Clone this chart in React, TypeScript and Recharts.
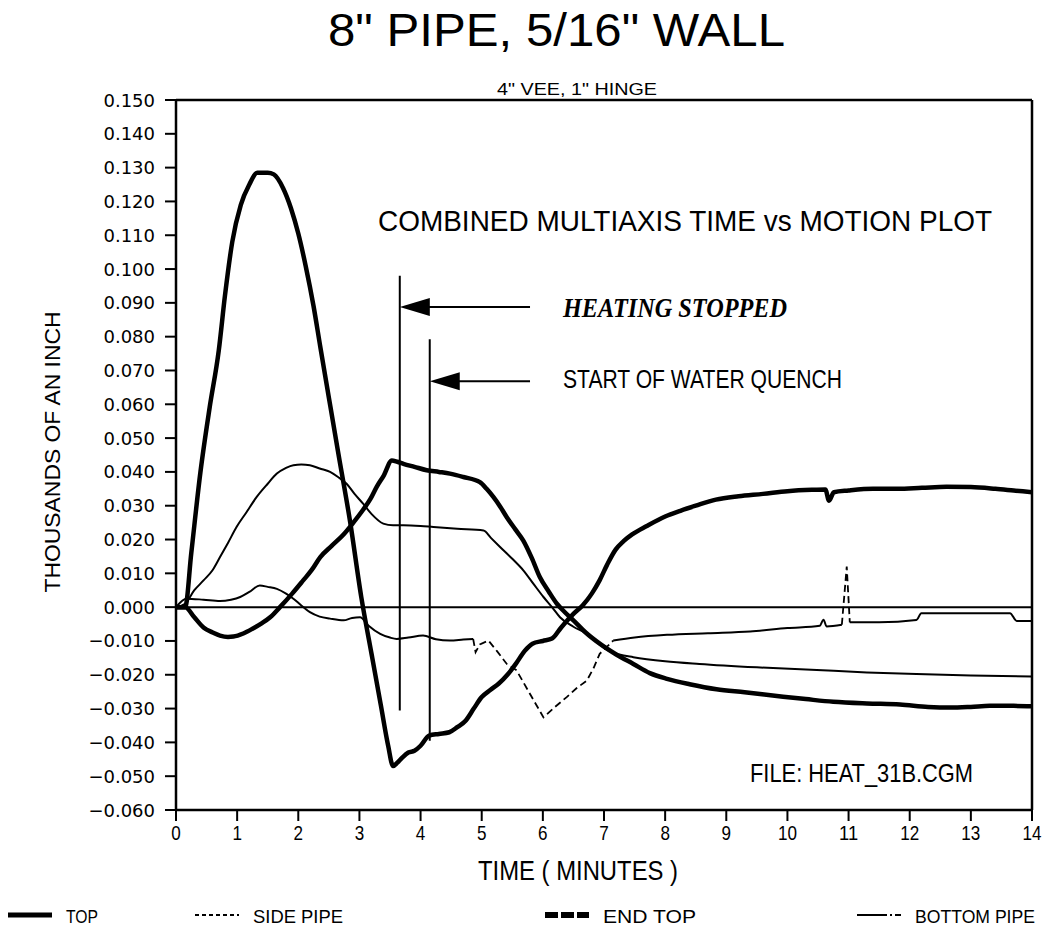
import {
  Line,
  LineChart,
  ReferenceDot,
  ReferenceLine,
  XAxis,
  YAxis,
} from "recharts";

// time (minutes) vs motion
const topPipe: [number, number][] = [
  [0, 0], [0.15, 0], [0.25, 0.016], [0.4, 0.04], [0.55, 0.059], [0.7, 0.076],
  [0.8, 0.092], [0.92, 0.108], [1.06, 0.119], [1.2, 0.125], [1.33, 0.1285],
  [1.5, 0.1285], [1.6, 0.128], [1.75, 0.124], [1.88, 0.118], [2.0, 0.1105],
  [2.12, 0.101], [2.25, 0.089], [2.36, 0.077], [2.5, 0.062], [2.65, 0.046],
  [2.85, 0.025], [3.03, 0.003], [3.2, -0.014], [3.35, -0.029], [3.47, -0.041],
  [3.55, -0.047], [3.62, -0.046], [3.7, -0.0445], [3.8, -0.043], [3.9, -0.0425],
  [4.0, -0.041], [4.14, -0.038], [4.3, -0.0375], [4.47, -0.037], [4.6, -0.0355],
  [4.74, -0.0335], [4.87, -0.03], [5.0, -0.0266], [5.14, -0.0245], [5.28, -0.0226],
  [5.42, -0.02], [5.56, -0.0167], [5.7, -0.013], [5.83, -0.0108], [6.0, -0.01],
  [6.15, -0.0093], [6.3, -0.006], [6.5, -0.002], [6.65, 0.0005], [6.8, 0.004],
  [6.93, 0.008], [7.05, 0.0125], [7.19, 0.017], [7.32, 0.0195], [7.46, 0.0215],
  [7.7, 0.024], [8.0, 0.0268], [8.25, 0.0285], [8.5, 0.03], [8.83, 0.0318],
  [9.2, 0.0328], [9.6, 0.0335], [10.0, 0.0343], [10.4, 0.0347], [10.62, 0.0348],
  [10.68, 0.0315], [10.76, 0.034], [11.0, 0.0345], [11.4, 0.035], [11.8, 0.035],
  [12.2, 0.0353], [12.6, 0.0356], [13.0, 0.0355], [13.4, 0.035], [13.7, 0.0345],
  [14, 0.034],
];

const sidePipe: [number, number][] = [
  [0, 0], [0.17, 0.0025], [0.45, 0.0022], [0.72, 0.0018], [0.9, 0.0022],
  [1.05, 0.003], [1.2, 0.0045], [1.37, 0.0064], [1.5, 0.006], [1.65, 0.0054],
  [1.8, 0.004], [1.92, 0.0025], [2.05, 0.0005], [2.19, -0.0015], [2.35, -0.0028],
  [2.52, -0.0034], [2.74, -0.0039], [2.88, -0.0032], [3.01, -0.003], [3.15, -0.0055],
  [3.34, -0.0079], [3.5, -0.009], [3.61, -0.0094], [3.8, -0.009], [4.04, -0.0084],
  [4.25, -0.0095], [4.48, -0.0099], [4.7, -0.0096], [4.86, -0.0094], [4.9, -0.0133],
  [4.97, -0.011], [5.11, -0.0099], [5.25, -0.013], [5.41, -0.0168], [5.57, -0.0187],
  [5.8, -0.026], [6.01, -0.0326], [6.2, -0.0295], [6.39, -0.0266], [6.55, -0.024],
  [6.72, -0.0217], [6.83, -0.018], [6.93, -0.0138], [7.15, -0.0099], [7.5, -0.009],
  [8.03, -0.0082], [8.7, -0.0077], [9.39, -0.0072], [10.0, -0.0062], [10.53, -0.0055],
  [10.59, -0.0037], [10.64, -0.0057], [10.89, -0.0052], [10.97, 0.012], [11.02, -0.0045],
  [11.5, -0.0045], [12.11, -0.0038], [12.19, -0.0018], [13.0, -0.0018], [13.64, -0.0018],
  [13.75, -0.0041], [14, -0.0041],
];

// stretches of the side pipe trace that the plotter drew dashed
const sideDashedSpans: [number, number][] = [[4.86, 7.15], [10.89, 11.02]];

const endTop: [number, number][] = [
  [0, 0], [0.15, 0], [0.3, -0.003], [0.45, -0.006], [0.6, -0.0075], [0.72, -0.0084],
  [0.85, -0.0088], [0.94, -0.0087], [1.1, -0.0078], [1.26, -0.0063], [1.4, -0.0048],
  [1.54, -0.003], [1.7, 0], [1.9, 0.004], [2.08, 0.0079], [2.22, 0.011], [2.36, 0.0148],
  [2.55, 0.0182], [2.74, 0.0215], [2.9, 0.025], [3.06, 0.0288], [3.18, 0.032],
  [3.28, 0.0355], [3.4, 0.039], [3.53, 0.0434], [3.62, 0.043], [3.72, 0.0424],
  [3.9, 0.0415], [4.1, 0.0405], [4.3, 0.04], [4.48, 0.0395], [4.7, 0.0385],
  [4.97, 0.037], [5.08, 0.035], [5.19, 0.0326], [5.3, 0.0298], [5.41, 0.0266],
  [5.55, 0.023], [5.68, 0.0197], [5.82, 0.0145], [5.95, 0.0089], [6.1, 0.0045],
  [6.23, 0.001], [6.36, -0.0015], [6.5, -0.0039], [6.7, -0.0075], [6.93, -0.0108],
  [7.2, -0.014], [7.48, -0.0168], [7.75, -0.0195], [8.03, -0.0212], [8.4, -0.0228],
  [8.84, -0.0243], [9.3, -0.0252], [9.93, -0.0265], [10.3, -0.0272], [10.75, -0.028],
  [11.3, -0.0285], [11.84, -0.0288], [12.3, -0.0295], [12.66, -0.0297], [13.0, -0.0295],
  [13.31, -0.0292], [13.7, -0.0292], [14, -0.0293],
];

const bottomPipe: [number, number][] = [
  [0, 0], [0.15, 0.001], [0.3, 0.005], [0.45, 0.0079], [0.6, 0.011], [0.72, 0.0148],
  [0.85, 0.019], [0.99, 0.0237], [1.15, 0.028], [1.32, 0.0326], [1.5, 0.0365],
  [1.65, 0.0395], [1.8, 0.0412], [1.92, 0.042], [2.05, 0.0422], [2.19, 0.042],
  [2.35, 0.041], [2.52, 0.04], [2.65, 0.0385], [2.79, 0.0365], [2.92, 0.0335],
  [3.06, 0.0306], [3.2, 0.0275], [3.39, 0.0247], [3.55, 0.0242], [3.72, 0.0242],
  [4.0, 0.024], [4.21, 0.0237], [4.6, 0.0232], [5.03, 0.0227], [5.15, 0.0205],
  [5.3, 0.0178], [5.5, 0.0143], [5.68, 0.0109], [5.85, 0.0068], [6.01, 0.003],
  [6.15, 0.0], [6.28, -0.003], [6.5, -0.0058], [6.72, -0.0079], [6.9, -0.0105],
  [7.04, -0.0125], [7.25, -0.014], [7.48, -0.0148], [8.0, -0.016], [8.56, -0.0168],
  [9.5, -0.0178], [10.48, -0.0186], [11.3, -0.0193], [12.11, -0.0198], [13.0, -0.0202],
  [14, -0.0205],
];

const xTicks = [0, 1, 2, 3, 4, 5, 6, 7, 8, 9, 10, 11, 12, 13, 14];
const yTicks = [
  -0.06, -0.05, -0.04, -0.03, -0.02, -0.01, 0, 0.01, 0.02, 0.03, 0.04, 0.05, 0.06,
  0.07, 0.08, 0.09, 0.1, 0.11, 0.12, 0.13, 0.14, 0.15,
];

// event markers: [time, top of line, bottom of line, arrow level]
const heatingStopped = [3.66, 0.098, -0.0306, 0.0888];
const waterQuench = [4.15, 0.0792, -0.0395, 0.0668];
const arrowTailT = 5.79;

const series = [
  { name: "TOP", data: topPipe, width: 4.5, legendDash: undefined, legendWidth: 5 },
  { name: "SIDE PIPE", data: sidePipe, width: 2, legendDash: "4 3", legendWidth: 2 },
  { name: "END TOP", data: endTop, width: 4.5, legendDash: "13 3", legendWidth: 6 },
  { name: "BOTTOM PIPE", data: bottomPipe, width: 2, legendDash: "30 3 2 3", legendWidth: 2 },
];

const W = 1053;
const H = 935;
const SANS = '"Liberation Sans", Arial, sans-serif';
const INK = "#000";

const fmtY = (v: number) => (v < 0 ? "\u2212" : "") + Math.abs(v).toFixed(3);

const inSpan = (t: number, strict: boolean) =>
  sideDashedSpans.some(([a, b]) => (strict ? t > a && t < b : t >= a && t <= b));

// solid part of a trace: gaps where the dashed stretches are
const solidRows = (pts: [number, number][], dashed: boolean) =>
  pts.map(([t, v]) => ({ t, v: dashed ? (inSpan(t, true) ? null : v) : v }));
const dashedRows = (pts: [number, number][]) =>
  pts.map(([t, v]) => ({ t, v: inSpan(t, false) ? v : null }));

function YTick({ x, y, payload }: any) {
  return (
    <text x={x} y={y} dy={6.5} textAnchor="end" fontSize={18} fill={INK} fontFamily='"DejaVu Sans", sans-serif'>
      {fmtY(payload.value)}
    </text>
  );
}

function XTick({ x, y, payload }: any) {
  const s = String(payload.value);
  return (
    <text
      x={x}
      y={y + 15}
      textAnchor="middle"
      fontSize={21}
      fill={INK}
      fontFamily={SANS}
      textLength={s.length * 9.5}
      lengthAdjust="spacingAndGlyphs"
    >
      {s}
    </text>
  );
}

function ArrowHead(p: any) {
  const { cx, cy } = p;
  return <polygon points={`${cx},${cy} ${cx + 30},${cy - 9} ${cx + 30},${cy + 9}`} fill={INK} />;
}

const legendX = [8, 195, 545, 857];
const legendTextLen = [32, 90, 93, 120];

function Overlay() {
  return (
    <svg
      width={W}
      height={H}
      style={{ position: "absolute", left: 0, top: 0, pointerEvents: "none" }}
    >
      <text x={328} y={46} fontSize={46} fontFamily={SANS} fill={INK} textLength={457} lengthAdjust="spacingAndGlyphs">
        8" PIPE, 5/16" WALL
      </text>
      <text x={497} y={95} fontSize={17} fontFamily={SANS} fill={INK} textLength={160} lengthAdjust="spacingAndGlyphs">
        4" VEE, 1" HINGE
      </text>
      <text x={378} y={231} fontSize={30} fontFamily={SANS} fill={INK} textLength={614} lengthAdjust="spacingAndGlyphs">
        COMBINED MULTIAXIS TIME vs MOTION PLOT
      </text>
      <text
        x={563}
        y={317}
        fontSize={27}
        fontStyle="italic"
        fontWeight="bold"
        fontFamily='"Liberation Serif", "Times New Roman", serif'
        fill={INK}
        textLength={224}
        lengthAdjust="spacingAndGlyphs"
      >
        HEATING STOPPED
      </text>
      <text x={563} y={388} fontSize={25} fontFamily={SANS} fill={INK} textLength={279} lengthAdjust="spacingAndGlyphs">
        START OF WATER QUENCH
      </text>
      <text x={750} y={782} fontSize={25} fontFamily={SANS} fill={INK} textLength={223} lengthAdjust="spacingAndGlyphs">
        FILE: HEAT_31B.CGM
      </text>
      <text
        transform="translate(60 452) rotate(-90)"
        textAnchor="middle"
        fontSize={22}
        fontFamily={SANS}
        fill={INK}
        textLength={281}
        lengthAdjust="spacingAndGlyphs"
      >
        THOUSANDS OF AN INCH
      </text>
      <text x={478} y={880} fontSize={27} fontFamily={SANS} fill={INK} textLength={200} lengthAdjust="spacingAndGlyphs">
        TIME ( MINUTES )
      </text>
      {series.map((s, i) => {
        const x0 = legendX[i];
        return (
          <g key={s.name}>
            <line
              x1={x0}
              x2={x0 + 44}
              y1={915}
              y2={915}
              stroke={INK}
              strokeWidth={s.legendWidth}
              strokeDasharray={s.legendDash}
            />
            <text
              x={x0 + 58}
              y={923}
              fontSize={18}
              fontFamily={SANS}
              fill={INK}
              textLength={legendTextLen[i]}
              lengthAdjust="spacingAndGlyphs"
            >
              {s.name}
            </text>
          </g>
        );
      })}
    </svg>
  );
}

export default function App() {
  return (
    <div style={{ position: "relative", width: W, height: H, background: "#fff" }}>
      <style>{"body{margin:0;background:#fff}"}</style>
      <LineChart width={W} height={H} margin={{ top: 100, right: 21, bottom: 65, left: 76 }}>
        <XAxis
          type="number"
          dataKey="t"
          domain={[0, 14]}
          ticks={xTicks}
          height={60}
          tickSize={11}
          tickMargin={4}
          axisLine={{ stroke: INK, strokeWidth: 2.5 }}
          tickLine={{ stroke: INK, strokeWidth: 2 }}
          tick={<XTick />}
          allowDataOverflow
        />
        <YAxis
          type="number"
          domain={[-0.06, 0.15]}
          ticks={yTicks}
          width={100}
          tickSize={11}
          tickMargin={10}
          axisLine={{ stroke: INK, strokeWidth: 2.5 }}
          tickLine={{ stroke: INK, strokeWidth: 2 }}
          tick={<YTick />}
          allowDataOverflow
        />
        <ReferenceLine y={0.15} stroke={INK} strokeWidth={2.5} />
        <ReferenceLine x={14} stroke={INK} strokeWidth={2.5} />
        <ReferenceLine y={0} stroke={INK} strokeWidth={2} />
        {[heatingStopped, waterQuench].map(([t, top, bot], i) => (
          <ReferenceLine
            key={`v${i}`}
            segment={[
              { x: t, y: top },
              { x: t, y: bot },
            ]}
            stroke={INK}
            strokeWidth={2}
          />
        ))}
        {[heatingStopped, waterQuench].map(([t, , , lvl], i) => (
          <ReferenceLine
            key={`a${i}`}
            segment={[
              { x: t + 0.4, y: lvl },
              { x: arrowTailT, y: lvl },
            ]}
            stroke={INK}
            strokeWidth={2}
          />
        ))}
        {[heatingStopped, waterQuench].map(([t, , , lvl], i) => (
          <ReferenceDot key={`h${i}`} x={t} y={lvl} r={1} shape={(p: any) => <ArrowHead {...p} />} />
        ))}
        {series.map((s) => (
          <Line
            key={s.name}
            name={s.name}
            data={solidRows(s.data, s.name === "SIDE PIPE")}
            dataKey="v"
            type="monotone"
            stroke={INK}
            strokeWidth={s.width}
            strokeLinejoin="round"
            dot={false}
            activeDot={false}
            connectNulls={false}
            isAnimationActive={false}
          />
        ))}
        <Line
          key="side-dashed"
          name="SIDE PIPE (dashed)"
          legendType="none"
          data={dashedRows(sidePipe)}
          dataKey="v"
          type="linear"
          stroke={INK}
          strokeWidth={1.8}
          strokeDasharray="7 4"
          dot={false}
          activeDot={false}
          connectNulls={false}
          isAnimationActive={false}
        />
      </LineChart>
      <Overlay />
    </div>
  );
}
